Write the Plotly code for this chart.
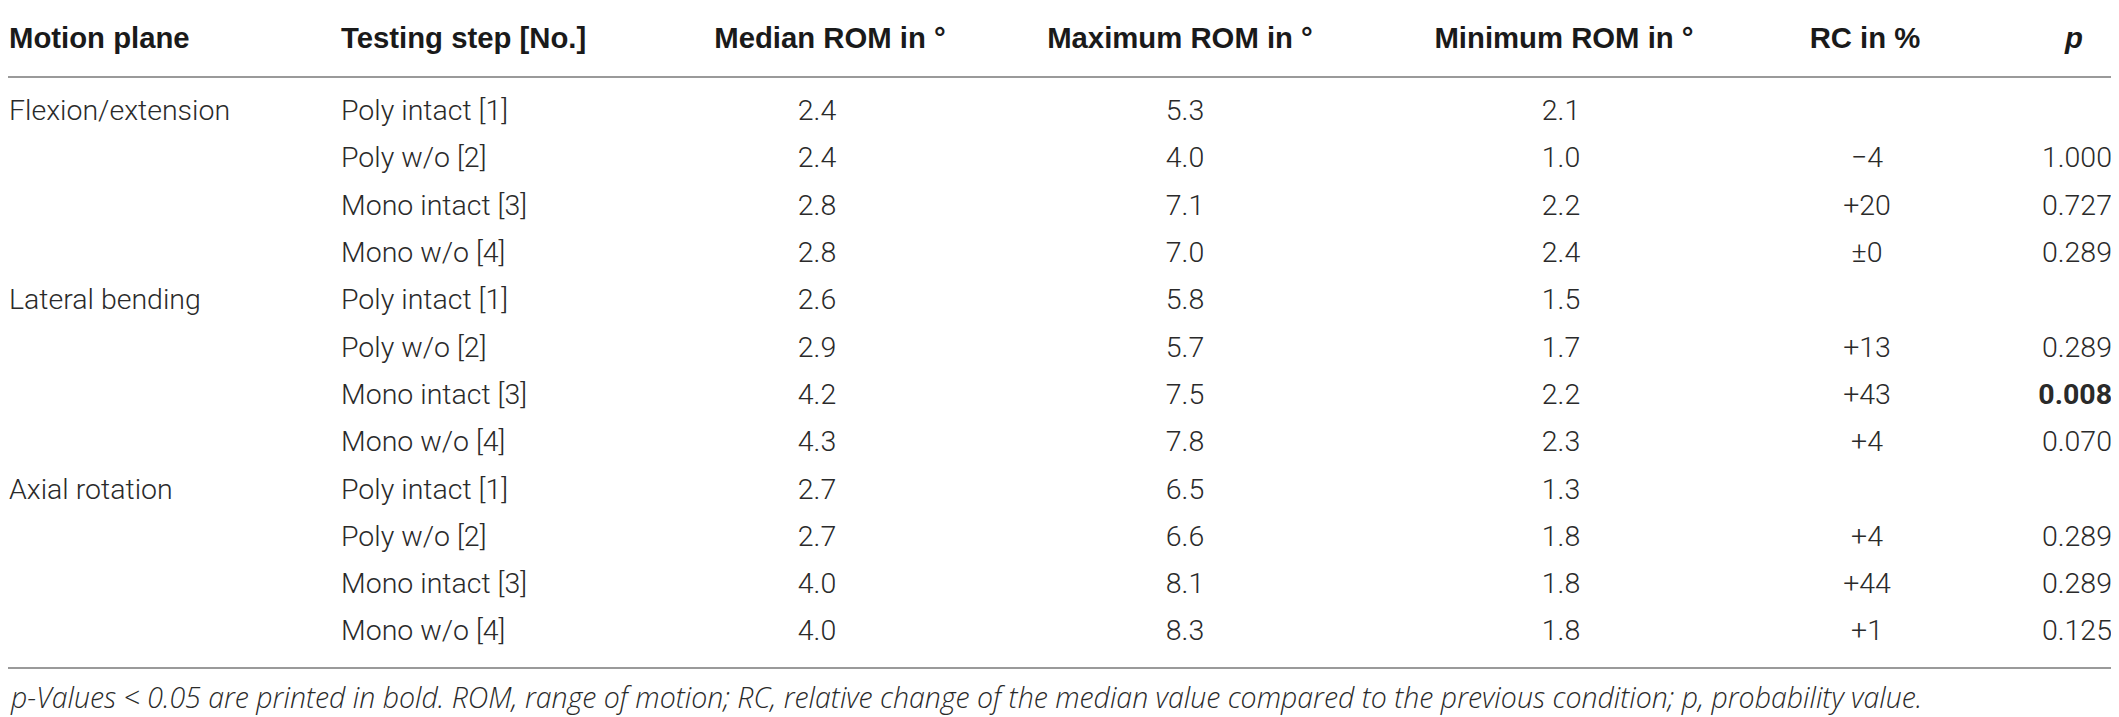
import plotly.graph_objects as go

# ---------------- data ----------------
headers = ["Motion plane", "Testing step [No.]", "Median ROM in °", "Maximum ROM in °",
           "Minimum ROM in °", "RC in %", "<i>p</i>"]
motion_planes = ["Flexion/extension", "Lateral bending", "Axial rotation"]
steps = ["Poly intact [1]", "Poly w/o [2]", "Mono intact [3]", "Mono w/o [4]"]
median_rom = [2.4, 2.4, 2.8, 2.8, 2.6, 2.9, 4.2, 4.3, 2.7, 2.7, 4.0, 4.0]
maximum_rom = [5.3, 4.0, 7.1, 7.0, 5.8, 5.7, 7.5, 7.8, 6.5, 6.6, 8.1, 8.3]
minimum_rom = [2.1, 1.0, 2.2, 2.4, 1.5, 1.7, 2.2, 2.3, 1.3, 1.8, 1.8, 1.8]
rc_percent = [None, -4, 20, 0, None, 13, 43, 4, None, 4, 44, 1]
p_values = [None, 1.000, 0.727, 0.289, None, 0.289, 0.008, 0.070, None, 0.289, 0.289, 0.125]
footnote = ("<i>p-Values &lt; 0.05 are printed in bold. ROM, range of motion; RC, relative change "
            "of the median value compared to the previous condition; p, probability value.</i>")

# ---------------- layout constants ----------------
W, H = 2119, 717
PAGE_MARGIN = 8          # default body margin of the html page
ROW0, ROW_STEP = 113, 47.3
HEAD_Y = 41
COL_X = [9, 341, 817, 1185, 1561, 1867, 2112]
HEAD_X = [9, 341, 830, 1180, 1564, 1865, 2074]
BODY_FONT = dict(family="Roboto, 'Liberation Sans', Arial", size=28.5, color="#2a2a2a", weight=300)
HEAD_FONT = dict(family="'Liberation Sans', Arial", size=29.3, color="#1a1a1a", weight="bold")
FOOT_FONT = dict(family="'Open Sans', Roboto, 'Liberation Sans'", size=28.5, color="#2a2a2a", weight=300)
LINE_COLOR = "#9a9a9a"

n_rows = len(median_rom)
row_y = [ROW0 + ROW_STEP * i for i in range(n_rows)]


def fmt_rc(v):
    if v is None:
        return ""
    if v == 0:
        return "±0"
    return ("+" if v > 0 else "−") + str(abs(v))


def fmt_p(v):
    if v is None:
        return ""
    s = f"{v:.3f}"
    return f"<b>{s}</b>" if v < 0.05 else s


col_texts = [
    [motion_planes[i // len(steps)] if i % len(steps) == 0 else "" for i in range(n_rows)],
    [steps[i % len(steps)] for i in range(n_rows)],
    [f"{v:.1f}" for v in median_rom],
    [f"{v:.1f}" for v in maximum_rom],
    [f"{v:.1f}" for v in minimum_rom],
    [fmt_rc(v) for v in rc_percent],
    [fmt_p(v) for v in p_values],
]
positions = ["middle right", "middle right", "middle center", "middle center",
             "middle center", "middle center", "middle left"]

fig = go.Figure()
for c, texts in enumerate(col_texts):
    fig.add_trace(go.Scatter(
        x=[COL_X[c]] * n_rows, y=row_y, text=texts, mode="text",
        textposition=positions[c], textfont=BODY_FONT, hoverinfo="skip", showlegend=False))

head_pos = ["middle right", "middle right", "middle center", "middle center",
            "middle center", "middle center", "middle center"]
for c, h in enumerate(headers):
    fig.add_trace(go.Scatter(
        x=[HEAD_X[c]], y=[HEAD_Y], text=[f"<b>{h}</b>"], mode="text",
        textposition=head_pos[c], textfont=HEAD_FONT, hoverinfo="skip", showlegend=False))

for yy in (5, 77, 668):
    fig.add_shape(type="line", x0=5, x1=2112, y0=yy, y1=yy, xref="x", yref="y",
                  line=dict(color=LINE_COLOR, width=2))

fig.add_annotation(x=8, y=697, xref="x", yref="y", text=footnote, showarrow=False,
                   xanchor="left", yanchor="middle", font=FOOT_FONT)

fig.update_layout(
    width=W - PAGE_MARGIN, height=H - PAGE_MARGIN, margin=dict(l=0, r=0, t=0, b=0),
    paper_bgcolor="white", plot_bgcolor="white",
    xaxis=dict(range=[PAGE_MARGIN, W], visible=False, fixedrange=True),
    yaxis=dict(range=[H, PAGE_MARGIN], visible=False, fixedrange=True),
)
fig.write_html("out.html")
